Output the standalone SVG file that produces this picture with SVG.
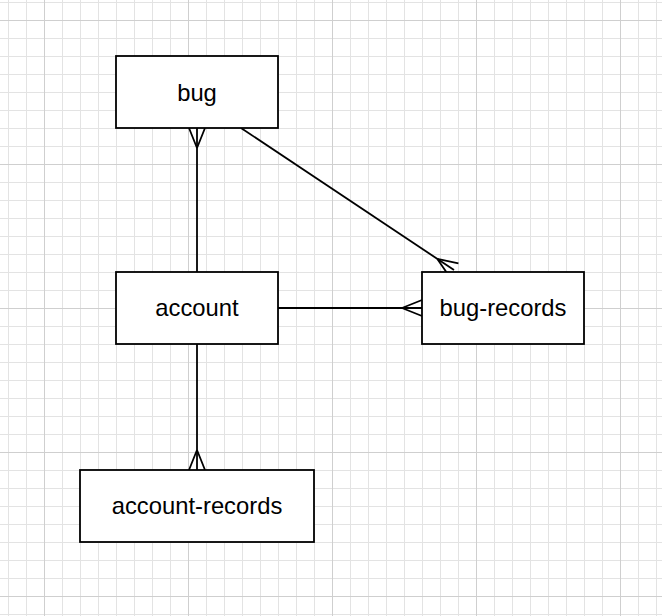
<svg xmlns="http://www.w3.org/2000/svg" width="662" height="616" viewBox="0 0 662 616">
  <style>
    .box { fill: #ffffff; stroke: #000000; stroke-width: 1.8; }
    .lbl { font-family: "Liberation Sans", Arial, sans-serif; font-size: 23.8px; fill: #000000; text-anchor: middle; }
    .edge { fill: none; stroke: #000000; stroke-width: 1.8; marker-end: url(#many); }
  </style>
  <defs>
    <pattern id="minor" x="8" y="2" width="18" height="18" patternUnits="userSpaceOnUse">
      <path d="M0.5 0 V18 M0 0.5 H18" fill="none" stroke="#e3e3e3" stroke-width="1"/>
    </pattern>
    <pattern id="major" x="44" y="20" width="144" height="144" patternUnits="userSpaceOnUse">
      <path d="M0.5 0 V144 M0 0.5 H144" fill="none" stroke="#cfcfcf" stroke-width="1"/>
    </pattern>
    <marker id="many" markerUnits="userSpaceOnUse" markerWidth="24" markerHeight="22" refX="20" refY="10" orient="auto" overflow="visible">
      <path d="M0 10 L20 2 M0 10 L20 18" fill="none" stroke="#000000" stroke-width="1.8"/>
    </marker>
  </defs>
  <rect width="662" height="616" fill="#ffffff"/>
  <rect width="662" height="616" fill="url(#minor)"/>
  <rect width="662" height="616" fill="url(#major)"/>

  <g id="connectors">
    <line class="edge" x1="197" y1="272" x2="197" y2="128"/>
    <line class="edge" x1="241" y1="128" x2="454" y2="270"/>
    <line class="edge" x1="278" y1="308" x2="422" y2="308"/>
    <line class="edge" x1="197" y1="344" x2="197" y2="470"/>
  </g>

  <g id="bug">
    <rect class="box" x="116" y="56" width="162" height="72"/>
    <text class="lbl" x="197" y="100.5">bug</text>
  </g>
  <g id="account">
    <rect class="box" x="116" y="272" width="162" height="72"/>
    <text class="lbl" x="197" y="316">account</text>
  </g>
  <g id="bug-records">
    <rect class="box" x="422" y="272" width="162" height="72"/>
    <text class="lbl" x="503" y="316">bug-records</text>
  </g>
  <g id="account-records">
    <rect class="box" x="80" y="470" width="234" height="72"/>
    <text class="lbl" x="197" y="514">account-records</text>
  </g>
</svg>
